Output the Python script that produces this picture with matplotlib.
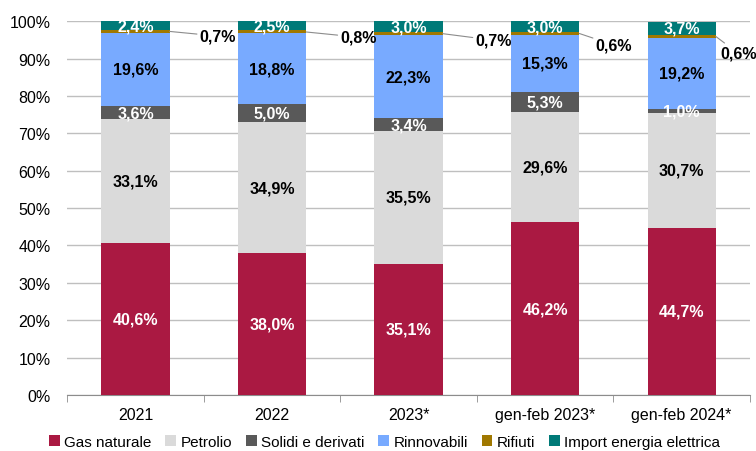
import numpy as np
import matplotlib
matplotlib.use('Agg')
import matplotlib.pyplot as plt
from matplotlib.ticker import FixedLocator, PercentFormatter

plt.rcParams['font.family'] = ['Liberation Sans Narrow', 'Liberation Sans', 'DejaVu Sans']

categories = ['2021', '2022', '2023*', 'gen-feb 2023*', 'gen-feb 2024*']
gas = [40.6, 38.0, 35.1, 46.2, 44.7]
petrolio = [33.1, 34.9, 35.5, 29.6, 30.7]
solidi = [3.6, 5.0, 3.4, 5.3, 1.0]
rinnovabili = [19.6, 18.8, 22.3, 15.3, 19.2]
rifiuti = [0.7, 0.8, 0.7, 0.6, 0.6]
importe = [2.4, 2.5, 3.0, 3.0, 3.7]

series = [
    ('Gas naturale', gas, '#AA1942', 'white'),
    ('Petrolio', petrolio, '#DADADA', 'black'),
    ('Solidi e derivati', solidi, '#595959', 'white'),
    ('Rinnovabili', rinnovabili, '#78AAFF', 'black'),
    ('Rifiuti', rifiuti, '#A07800', None),
    ('Import energia elettrica', importe, '#007A78', 'white'),
]

# where the outside labels for Rifiuti sit (x offset from bar centre, y in %)
rif_text_pos = [(0.47, 96.0), (0.50, 95.7), (0.49, 94.9), (0.37, 93.6), (0.28, 91.4)]

fig = plt.figure(figsize=(7.56, 4.52), dpi=100)
ax = fig.add_axes([0.089, 0.124, 0.903, 0.827])

x = np.arange(len(categories))
bottom = np.zeros(len(categories))
width = 0.5
for name, vals, color, tcol in series:
    vals = np.array(vals)
    ax.bar(x, vals, width, bottom=bottom, color=color, label=name, zorder=3)
    for i, v in enumerate(vals):
        lab = f'{v:.1f}%'.replace('.', ',')
        if tcol is None:
            dx, ty = rif_text_pos[i]
            ax.annotate(lab, xy=(x[i] + width / 2, bottom[i] + v / 2),
                        xytext=(x[i] + dx, ty), ha='left', va='center',
                        fontsize=11.5, fontweight='bold', color='black',
                        arrowprops=dict(arrowstyle='-', color='#8C8C8C', lw=0.8,
                                        shrinkA=0, shrinkB=0),
                        annotation_clip=False, zorder=5)
        else:
            ax.text(x[i], bottom[i] + v / 2, lab, ha='center', va='center',
                    fontsize=11.5, fontweight='bold', color=tcol, zorder=4)
    bottom += vals

ax.set_xlim(-0.5, len(categories) - 0.5)
ax.set_ylim(0, 100)
ax.yaxis.set_major_locator(FixedLocator(np.arange(0, 101, 10)))
ax.yaxis.set_major_formatter(PercentFormatter(decimals=0))
ax.grid(axis='y', color='#BFBFBF', lw=1, zorder=0)
ax.set_axisbelow(True)

ax.set_xticks(x)
ax.set_xticklabels(categories)
ax.set_xticks(np.arange(-0.5, len(categories)), minor=True)
ax.tick_params(axis='x', which='major', length=0, pad=9, labelsize=11.5)
ax.tick_params(axis='x', which='minor', length=5, color='#8C8C8C', direction='out')
ax.tick_params(axis='y', length=0, pad=12, labelsize=11.5)

for s in ['top', 'right', 'left']:
    ax.spines[s].set_visible(False)
ax.spines['bottom'].set_color('#8C8C8C')

ax.legend(loc='upper center', bbox_to_anchor=(0.465, -0.09), ncol=6, frameon=False,
          fontsize=11, handlelength=0.7, handleheight=0.7, handletextpad=0.3,
          columnspacing=0.9, borderaxespad=0)

fig.savefig('out.png', dpi=100)
